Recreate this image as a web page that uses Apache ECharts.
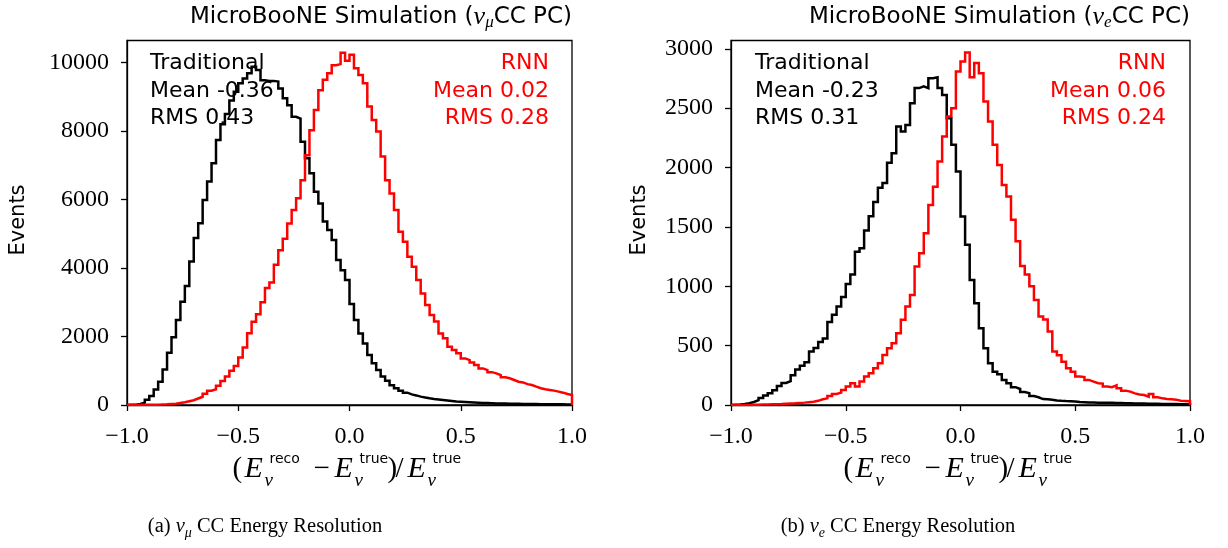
<!DOCTYPE html>
<html><head><meta charset="utf-8">
<script src="https://cdn.jsdelivr.net/npm/echarts@6/dist/echarts.min.js"></script>
<style>html,body{margin:0;padding:0;background:#fff}#c{width:1228px;height:548px}</style>
</head><body><div id="c"></div>
<script>
// ---- histogram binning (100 bins from -1 to 1) ----
const binLow = -1.0;
const binWidth = 0.02;

// ---- panel (a): nu_mu CC PC ----
const numuTraditional = [
  5, 10, 30, 70, 150, 260, 450, 680, 1040, 1530,
  1980, 2480, 3020, 3480, 4190, 4880, 5310, 5990, 6530, 7060,
  7740, 8200, 8500, 8900, 9150, 9400, 9540, 9690, 9880, 9790,
  9490, 9470, 9470, 9450, 9250, 8960, 8760, 8420, 8370, 7690,
  7210, 6770, 6230, 5890, 5360, 5110, 4820, 4240, 3940, 3650,
  2950, 2480, 2090, 1800, 1460, 1220, 1020, 830, 710, 580,
  490, 420, 360, 310, 280, 245, 220, 195, 175, 160,
  146, 130, 115, 100, 95, 88, 80, 72, 66, 60,
  55, 50, 47, 44, 41, 38, 36, 34, 32, 30,
  28, 27, 25, 24, 23, 21, 20, 19, 18, 17
];
const numuRNN = [
  2, 3, 4, 5, 6, 8, 10, 15, 20, 30,
  40, 60, 80, 110, 140, 190, 240, 330, 420, 460,
  560, 700, 830, 1000, 1140, 1390, 1680, 2100, 2430, 2650,
  3000, 3420, 3580, 4100, 4520, 4860, 5300, 5700, 6040, 6570,
  7300, 8030, 8620, 9200, 9500, 9690, 9930, 9960, 10290, 10060,
  10230, 9840, 9640, 9400, 8720, 8330, 7990, 7260, 6570, 6180,
  5700, 5060, 4770, 4330, 4040, 3650, 3260, 2920, 2630, 2440,
  2090, 1950, 1700, 1610, 1510, 1360, 1310, 1240, 1170, 1070,
  1020, 960, 925, 875, 810, 780, 730, 680, 660, 610,
  585, 535, 490, 460, 440, 420, 390, 360, 320, 290
];

// ---- panel (b): nu_e CC PC ----
const nueTraditional = [
  3, 5, 8, 15, 25, 40, 60, 80, 100, 125,
  160, 185, 200, 250, 300, 330, 360, 450, 480, 530,
  560, 700, 760, 830, 910, 1020, 1100, 1290, 1320, 1470,
  1590, 1710, 1830, 1870, 2040, 2120, 2345, 2303, 2359, 2542,
  2669, 2683, 2669, 2753, 2761, 2669, 2612, 2416, 2191, 1966,
  1588, 1350, 1053, 857, 647, 478, 351, 281, 258, 211,
  183, 150, 135, 110, 100, 75, 65, 50, 48, 45,
  38, 35, 33, 32, 30, 25, 24, 22, 22, 20,
  20, 18, 18, 17, 16, 15, 14, 13, 12, 12,
  11, 10, 10, 9, 9, 8, 8, 7, 7, 6
];
const nueRNN = [
  0, 0, 1, 1, 2, 3, 4, 5, 6, 7,
  8, 10, 12, 14, 17, 20, 24, 28, 35, 48,
  56, 76, 93, 104, 126, 155, 183, 155, 197, 239,
  267, 309, 351, 421, 478, 520, 604, 717, 829, 927,
  1166, 1279, 1447, 1685, 1839, 2050, 2261, 2430, 2500, 2809,
  2893, 2969, 2761, 2880, 2795, 2556, 2388, 2191, 2022, 1854,
  1756, 1560, 1380, 1170, 1100, 1000, 885, 745, 720, 620,
  450, 420, 365, 310, 281, 239, 235, 211, 197, 183,
  180, 155, 150, 165, 141, 121, 113, 98, 88, 84,
  70, 93, 65, 56, 50, 48, 45, 36, 34, 32
];

// ---- axes ----
const xTicks = [-1.0, -0.5, 0.0, 0.5, 1.0];
const yTicksNumu = [0, 2000, 4000, 6000, 8000, 10000];
const yTicksNue = [0, 500, 1000, 1500, 2000, 2500, 3000];
const yMaxNumu = 10650;
const yMaxNue = 3070;

// ---- texts ----
const statsNumuTrad = ['Traditional', 'Mean -0.36', 'RMS 0.43'];
const statsNumuRNN = ['RNN', 'Mean 0.02', 'RMS 0.28'];
const statsNueTrad = ['Traditional', 'Mean -0.23', 'RMS 0.31'];
const statsNueRNN = ['RNN', 'Mean 0.06', 'RMS 0.24'];

function steps(counts) {
  const pts = [[binLow, 0]];
  counts.forEach((v, i) => pts.push([binLow + binWidth * i, v]));
  const end = binLow + binWidth * counts.length;
  pts.push([end, counts[counts.length - 1]]);
  pts.push([end, 0]);
  return pts;
}

const SERIF = '"Liberation Serif", "DejaVu Serif", serif';
const SANS = '"DejaVu Sans", sans-serif';
const BLACK = '#000000';
const RED = '#ff0000';

function fmtX(v) {
  const s = Math.abs(v).toFixed(1);
  return (v < -1e-9 ? '\u2212' : '') + s;
}

function xAxisCfg(gi) {
  return {
    type: 'value', gridIndex: gi, min: -1, max: 1, interval: 0.5,
    axisLine: { show: true, onZero: false, lineStyle: { color: BLACK, width: 1.3 } },
    axisTick: { show: true, length: 6, lineStyle: { color: BLACK, width: 1.3 },
                customValues: xTicks },
    axisLabel: { color: BLACK, fontFamily: SERIF, fontSize: 24, margin: 20,
                 formatter: fmtX, customValues: xTicks },
    splitLine: { show: false }
  };
}
function yAxisCfg(gi, max, ticks) {
  return {
    type: 'value', gridIndex: gi, min: 0, max: max,
    axisLine: { show: true, onZero: false, lineStyle: { color: BLACK, width: 1.3 } },
    axisTick: { show: true, length: 6, lineStyle: { color: BLACK, width: 1.3 },
                customValues: ticks },
    axisLabel: { color: BLACK, fontFamily: SERIF, fontSize: 24, margin: 18,
                 formatter: v => String(v), customValues: ticks },
    splitLine: { show: false }
  };
}
function histSeries(name, counts, gi, color) {
  return {
    name: name, type: 'line', xAxisIndex: gi, yAxisIndex: gi,
    data: steps(counts), step: 'end', showSymbol: false, symbol: 'none',
    lineStyle: { color: color, width: 2.5, join: 'miter' }, itemStyle: { color: color },
    animation: false, silent: true
  };
}

function txt(x, y, text, font, color, align, valign, extra) {
  return {
    type: 'text', x: x, y: y, silent: true,
    style: Object.assign({
      text: text, font: font, fill: color,
      align: align || 'left', textAlign: align || 'left',
      verticalAlign: valign || 'middle', textVerticalAlign: valign || 'middle'
    }, extra || {})
  };
}

function statBlock(x, y, lines, color, align) {
  return txt(x, y, lines.join('\n'), '22px ' + SANS, color, align, 'top', { lineHeight: 27.5 });
}

function titleEl(xRight, sub) {
  return {
    type: 'text', x: xRight, y: 17, silent: true,
    style: {
      text: '{a|MicroBooNE Simulation (}{nu|\u03BD}{s|' + sub + '}{a|CC PC)}',
      align: 'right', textAlign: 'right', verticalAlign: 'middle', textVerticalAlign: 'middle',
      rich: {
        a: { fontFamily: SANS, fontSize: 23, fill: BLACK, color: BLACK, lineHeight: 28, verticalAlign: 'middle' },
        nu: { fontFamily: SERIF, fontStyle: 'italic', fontSize: 26, fill: BLACK, color: BLACK, lineHeight: 28, verticalAlign: 'middle' },
        s: { fontFamily: SERIF, fontStyle: 'italic', fontSize: 17, fill: BLACK, color: BLACK, lineHeight: 28, verticalAlign: 'bottom' }
      }
    }
  };
}

function captionEl(xc, letter, sub) {
  return {
    type: 'text', x: xc, y: 527, silent: true,
    style: {
      text: '{a|(' + letter + ') }{nu|\u03BD}{s|' + sub + '}{a| CC Energy Resolution}',
      align: 'center', textAlign: 'center', verticalAlign: 'middle', textVerticalAlign: 'middle',
      rich: {
        a: { fontFamily: SERIF, fontSize: 20.5, fill: BLACK, color: BLACK, lineHeight: 26, verticalAlign: 'middle' },
        nu: { fontFamily: SERIF, fontStyle: 'italic', fontSize: 20.5, fill: BLACK, color: BLACK, lineHeight: 26, verticalAlign: 'middle' },
        s: { fontFamily: SERIF, fontStyle: 'italic', fontSize: 14, fill: BLACK, color: BLACK, lineHeight: 26, verticalAlign: 'bottom' }
      }
    }
  };
}

function xLabelEls(cx, yc) {
  const main = '29px ' + SERIF;
  const ital = 'italic 30px ' + SERIF;
  const sup = '14px ' + SANS;
  const sub = 'italic 19px ' + SERIF;
  const parts = [
    ['(', -117, 0, main], ['E', -105, 0, ital], ['reco', -80, -10, sup], ['\u03BD', -85, 12, sub],
    ['\u2212', -36, 0, main], ['E', -15, 0, ital], ['true', 10, -10, sup], ['\u03BD', 5, 12, sub],
    [')', 38, 0, main], ['/', 46, 0, main], ['E', 58, 0, ital], ['true', 83, -10, sup], ['\u03BD', 78, 12, sub]
  ];
  return parts.map(p => txt(cx + p[1], yc + p[2], p[0], p[3], BLACK, 'left', 'middle'));
}

function eventsEl(x) {
  const el = txt(x, 220, 'Events', '21px ' + SANS, BLACK, 'center', 'middle');
  el.rotation = Math.PI / 2;
  return el;
}

const chart = echarts.init(document.getElementById('c'), null, { renderer: 'canvas' });
const grids = [
  { left: 127, top: 40.5, width: 445, height: 364.5, show: true, borderColor: BLACK, borderWidth: 1.3, backgroundColor: 'transparent' },
  { left: 731, top: 40.5, width: 459, height: 364.5, show: true, borderColor: BLACK, borderWidth: 1.3, backgroundColor: 'transparent' }
];

const graphics = [].concat(
  [titleEl(572, '\u03BC'), titleEl(1190, 'e')],
  [statBlock(150, 50, statsNumuTrad, BLACK, 'left'), statBlock(549, 50, statsNumuRNN, RED, 'right')],
  [statBlock(755, 50, statsNueTrad, BLACK, 'left'), statBlock(1166, 50, statsNueRNN, RED, 'right')],
  xLabelEls(349.5, 469), xLabelEls(960.5, 469),
  [eventsEl(19), eventsEl(640)],
  [captionEl(265, 'a', '\u03BC'), captionEl(898, 'b', 'e')]
);

chart.setOption({
  animation: false,
  backgroundColor: '#ffffff',
  grid: grids,
  xAxis: [xAxisCfg(0), xAxisCfg(1)],
  yAxis: [yAxisCfg(0, yMaxNumu, yTicksNumu), yAxisCfg(1, yMaxNue, yTicksNue)],
  series: [
    histSeries('Traditional', numuTraditional, 0, BLACK),
    histSeries('RNN', numuRNN, 0, RED),
    histSeries('Traditional', nueTraditional, 1, BLACK),
    histSeries('RNN', nueRNN, 1, RED)
  ],
  graphic: graphics
});
</script>
</body></html>
